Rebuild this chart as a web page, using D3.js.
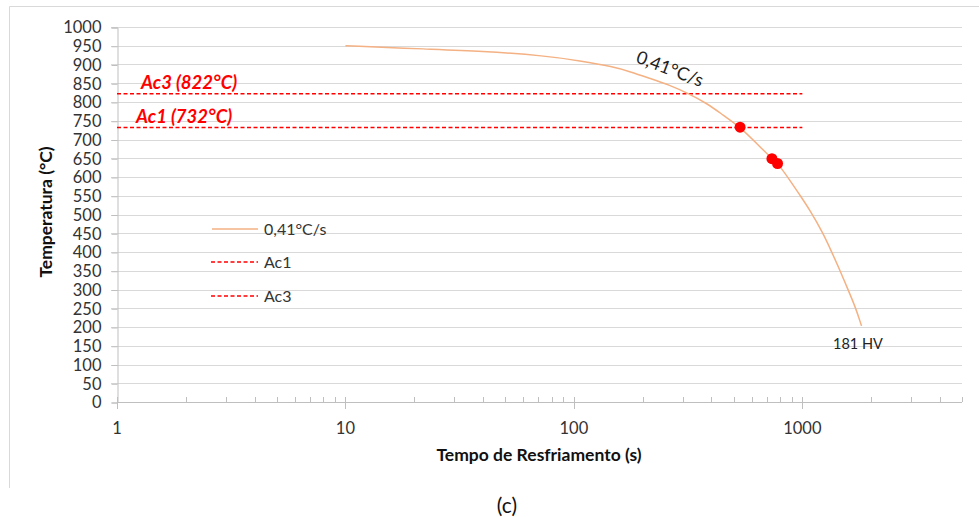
<!DOCTYPE html>
<html><head><meta charset="utf-8">
<script src="https://cdn.jsdelivr.net/npm/d3@7"></script>
<style>body{margin:0;background:#fff}svg{display:block}text{font-family:Lato,"Open Sans",sans-serif}</style>
</head><body><svg id="c" width="979" height="517"></svg>
<script>
const curveTime = [10, 23, 39, 76, 106, 149, 176, 215, 263, 316, 381, 450, 533, 630, 733, 784, 881, 975, 1079, 1233, 1342, 1459, 1587, 1715, 1816];
const curveTemp = [950, 941, 936, 923, 910, 894, 881, 863, 845, 823, 797, 765, 734, 690, 650, 635, 592, 552, 512, 450, 401, 352, 299, 250, 203];
const markerTime = [534, 736, 779];
const markerTemp = [733, 649, 636];
const ac1 = 732, ac3 = 822;
const lineStart = 1, lineEnd = 1000;
const yTicks = d3.range(0, 1001, 50);
const xMajor = [1, 10, 100, 1000];
const seriesName = "0,41°C/s";

const svg = d3.select("#c");
const x = d3.scaleLog().domain([1, 5000]).range([117, 962]);
const y = d3.scaleLinear().domain([0, 1000]).range([402, 27]);

// outer frame (top and left edges only)
svg.append("line").attr("x1", 9.5).attr("x2", 979).attr("y1", 6.5).attr("y2", 6.5).attr("stroke", "#d9d9d9");
svg.append("line").attr("x1", 9.5).attr("x2", 9.5).attr("y1", 6.5).attr("y2", 488).attr("stroke", "#d9d9d9");

// gridlines
svg.append("g").selectAll("line").data(yTicks.filter(d => d > 0)).join("line")
  .attr("x1", 111).attr("x2", 962).attr("y1", d => Math.round(y(d)) + 0.5).attr("y2", d => Math.round(y(d)) + 0.5)
  .attr("stroke", "#d9d9d9").attr("stroke-width", 1);

// y axis
const yAxis = d3.axisLeft(y).tickValues(yTicks).tickSize(6).tickPadding(10).tickFormat(d3.format("d"));
const gy = svg.append("g").attr("transform", "translate(117.5,0.5)").call(yAxis);
gy.select(".domain").attr("stroke", "#bfbfbf");
gy.selectAll(".tick line").attr("stroke", "#bfbfbf");
gy.selectAll(".tick text").attr("font-size", 16.5).attr("fill", "#333").attr("font-family", "Lato");

// x axis
const minor = [];
for (let e = 0; e < 4; e++) for (let m = 2; m <= 9; m++) { const v = m * Math.pow(10, e); if (v <= 5000) minor.push(v); }
const gx = svg.append("g");
gx.append("line").attr("x1", 117).attr("x2", 962).attr("y1", 402.5).attr("y2", 402.5).attr("stroke", "#bfbfbf");
gx.selectAll("line.mn").data(minor).join("line").attr("class", "mn")
  .attr("x1", d => Math.round(x(d)) + 0.5).attr("x2", d => Math.round(x(d)) + 0.5)
  .attr("y1", 397).attr("y2", 402).attr("stroke", "#bfbfbf");
gx.selectAll("line.mj").data(xMajor).join("line").attr("class", "mj")
  .attr("x1", d => Math.round(x(d)) + 0.5).attr("x2", d => Math.round(x(d)) + 0.5)
  .attr("y1", 397).attr("y2", 409).attr("stroke", "#bfbfbf");
gx.selectAll("text").data(xMajor).join("text")
  .attr("x", d => x(d)).attr("y", 434).attr("text-anchor", "middle")
  .attr("font-size", 16.5).attr("fill", "#333").text(d => d);

// axis titles
svg.append("text").attr("x", 539).attr("y", 461).attr("text-anchor", "middle")
  .attr("font-size", 17.5).attr("font-weight", "bold").attr("fill", "#111").text("Tempo de Resfriamento (s)");
svg.append("text").attr("transform", "translate(52,212) rotate(-90)").attr("text-anchor", "middle")
  .attr("font-size", 17.5).attr("font-weight", "bold").attr("fill", "#111").text("Temperatura (°C)");

// Ac lines
[ac3, ac1].forEach(v => {
  svg.append("line").attr("x1", x(lineStart)).attr("x2", x(lineEnd)).attr("y1", y(v)).attr("y2", y(v))
    .attr("stroke", "#ff0000").attr("stroke-width", 1.6).attr("stroke-dasharray", "4,2.5");
});
svg.append("text").attr("x", 141).attr("y", 89).attr("font-size", 18.5).attr("font-weight", "bold")
  .attr("font-style", "italic").attr("fill", "#ff0000").text("Ac3 (822°C)");
svg.append("text").attr("x", 136).attr("y", 123).attr("font-size", 18.5).attr("font-weight", "bold")
  .attr("font-style", "italic").attr("fill", "#ff0000").text("Ac1 (732°C)");

// curve
const pts = curveTime.map((t, i) => [x(t), y(curveTemp[i])]);
svg.append("path").attr("d", d3.line().curve(d3.curveBasis)(pts))
  .attr("fill", "none").attr("stroke", "#f4b183").attr("stroke-width", 1.5);

// markers
svg.append("g").selectAll("circle").data(markerTime).join("circle")
  .attr("cx", d => x(d)).attr("cy", (d, i) => y(markerTemp[i])).attr("r", 5.5).attr("fill", "#ff0000");

// annotations
svg.append("text").attr("transform", "translate(635,62) rotate(21)").attr("font-size", 18)
  .attr("fill", "#222").text(seriesName);
svg.append("text").attr("x", 833).attr("y", 349).attr("font-size", 14.5).attr("fill", "#222").text("181 HV");

// legend
const lg = svg.append("g");
lg.append("line").attr("x1", 212).attr("x2", 258).attr("y1", 229).attr("y2", 229).attr("stroke", "#f4b183").attr("stroke-width", 1.5);
lg.append("line").attr("x1", 211).attr("x2", 258).attr("y1", 262).attr("y2", 262).attr("stroke", "#ff0000").attr("stroke-width", 1.6).attr("stroke-dasharray", "4,2.5");
lg.append("line").attr("x1", 211).attr("x2", 258).attr("y1", 296).attr("y2", 296).attr("stroke", "#ff0000").attr("stroke-width", 1.6).attr("stroke-dasharray", "4,2.5");
[[seriesName, 229], ["Ac1", 262], ["Ac3", 296]].forEach(([t, yy]) => {
  lg.append("text").attr("x", 264).attr("y", yy).attr("dy", "0.35em").attr("font-size", 16).attr("fill", "#333").text(t);
});

// caption
svg.append("text").attr("x", 507).attr("y", 513).attr("text-anchor", "middle").attr("font-size", 21)
  .attr("font-family", "Liberation Sans, Arial, sans-serif").attr("fill", "#111").text("(c)");
</script></body></html>
